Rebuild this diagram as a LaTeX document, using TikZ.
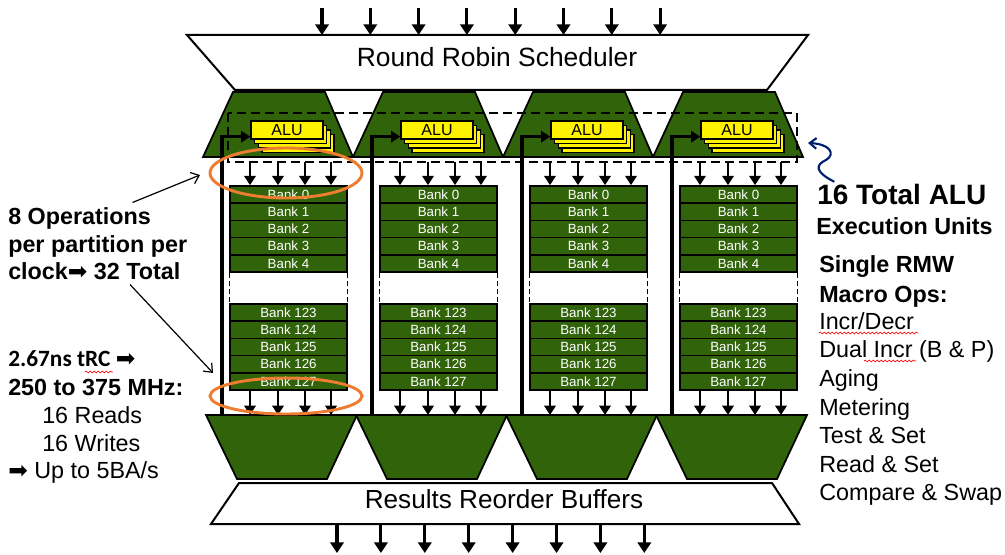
\documentclass[tikz,border=0pt]{standalone}
\usepackage{fontspec}
\setmainfont{Liberation Sans}
\newfontfamily\calfont{Carlito}
\newfontfamily\dingfont{DejaVu Sans}
\usetikzlibrary{calc,positioning,arrows.meta,decorations.pathmorphing}
\definecolor{bankgreen}{HTML}{31640A}
\definecolor{hiorange}{HTML}{ED7D31}
\definecolor{navyblue}{HTML}{001F6E}
\newcommand{\bfont}{\fontsize{17.5}{21}\selectfont\bfseries}
\newcommand{\rfont}{\fontsize{17.5}{21}\selectfont}
\newcommand{\arr}{{\dingfont\mdseries ➡}}
\tikzset{
  buf/.style={draw=black, line width=1.5pt, fill=white},
  trap/.style={draw=black, line width=1.3pt, fill=bankgreen},
  alubox/.style={draw=black, line width=1pt, fill=yellow, inner sep=0pt,
    font=\fontsize{12}{12}\selectfont},
  bank/.style={draw=black, line width=1.2pt, fill=bankgreen, text=white,
    minimum width=87.75pt, minimum height=12.9pt, inner sep=0pt,
    font=\fontsize{10}{10}\selectfont},
  gapside/.style={draw=black, line width=0.8pt, dash pattern=on 4pt off 2pt},
  bigarrow/.style={line width=2.3pt, -{Triangle[width=10pt,length=8pt]}},
  busarrow/.style={line width=2pt, -{Triangle[width=8.5pt,length=7pt]}},
  feedback/.style={line width=2.3pt, -{Triangle[width=8.5pt,length=7pt]}},
  dashframe/.style={draw=black, line width=1.3pt, dash pattern=on 6.5pt off 4pt},
  hilite/.style={draw=hiorange, line width=2.2pt},
  thinarrow/.style={line width=0.9pt, -{Straight Barb[length=5.5pt,width=9pt]}},
  squig/.style={draw=navyblue, line width=1.6pt, -{Straight Barb[length=5pt,width=8pt]}},
  spell/.style={draw=red, line width=0.5pt, decorate,
    decoration={snake, amplitude=0.7pt, segment length=3pt}},
  txt/.style={anchor=base west, inner sep=0pt},
}
\newcommand{\partition}[2]
	{
	\draw[trap] ({#2+3},92) -- ({#2+95},92) -- ({#2+123},157) -- ({#2-27},157) -- cycle;
	\draw[trap] ({#2-24},415) -- ({#2+127},415) -- ({#2+97},479) -- ({#2+7},479) -- cycle;
	\foreach \s in {3,2,1}
		\draw[alubox] ({#2+21+3.7*\s},{121+4.5*\s}) rectangle +(72,18);
	\node[alubox, minimum width=54pt, minimum height=13.5pt] (#1alu) at ({#2+57},130) {ALU};
	\foreach \n [count=\i from 0] in {0,...,4}
		\node[bank] (#1b\n) at ({#2+58.5},{194.6+17.2*\i}) {Bank \n};
	\foreach \n [count=\i from 0] in {123,...,127}
		\node[bank] (#1b\n) at ({#2+58.5},{312.6+17.2*\i}) {Bank \n};
	\draw[gapside] (#1b4.south west) -- (#1b123.north west);
	\draw[gapside] (#1b4.south east) -- (#1b123.north east);
	\foreach \x [count=\k] in {20,48,75,101}
		{
		\coordinate (#1i\k) at ({#2+\x},162);
		\coordinate (#1o\k) at ({#2+\x},415);
		\draw[busarrow] (#1i\k) -- (#1i\k |- #1b0.north);
		\draw[busarrow] (#1o\k |- #1b127.south) -- (#1o\k);
		}
	\coordinate (#1f) at ({#2-8},415);
	\draw[feedback] (#1f) |- ([yshift=-5pt]#1alu.west);
	}

\begin{document}
\begin{tikzpicture}[x=0.75pt, y=-0.75pt]
    \useasboundingbox (0,0) rectangle (1005,555);
    % scheduler and reorder buffers
    \draw[buf] (187,35) -- (808,35) -- (767,90) -- (235,90) -- cycle;
    \node[anchor=base, inner sep=0pt, font=\fontsize{19.8}{24}\selectfont] (RR) at (497,67) {Round Robin Scheduler};
    \draw[buf] (239,483) -- (772,483) -- (799,524) -- (211,524) -- cycle;
    \node[anchor=base, inner sep=0pt, font=\fontsize{19.6}{24}\selectfont] (RB) at (504,508) {Results Reorder Buffers};
    \foreach \k in {0,...,7}
        {
        \coordinate (top\k) at ({322+48.3*\k},8);
        \coordinate (sch\k) at ({322+48.3*\k},35);
        \draw[bigarrow] (top\k) -- (sch\k);
        \coordinate (rob\k) at ({337+43.9*\k},525);
        \coordinate (out\k) at ({337+43.9*\k},553);
        \draw[bigarrow] (rob\k) -- (out\k);
        }

    % partitions
    \partition{P1}{230}
    \partition{P2}{380}
    \partition{P3}{530}
    \partition{P4}{680}
    \draw[dashframe] (228,113) rectangle (797,162);
    \draw[hilite] (286,173) ellipse [x radius=76, y radius=25];
    \draw[hilite] (286,396) ellipse [x radius=76, y radius=18];

    % left notes
    \node[txt, font=\bfont] (L1) at (8,225) {8 Operations};
    \node[txt, font=\bfont] (L2) at (8,253) {per partition per};
    \node[txt, font=\bfont] (L3) at (8,280) {clock\arr{} 32 Total};
    \coordinate (E1) at (200,175);
    \coordinate (E2) at (213,373);
    \draw[thinarrow] ([xshift=-14pt,yshift=4pt]L1.north east) -- (E1);
    \draw[thinarrow] ([xshift=-38pt,yshift=-3pt]L3.south east) -- (E2);
    \node[txt, font=\fontsize{17.5}{21}\selectfont\calfont\bfseries] (L4) at (8,367) {2.67ns tRC \arr};
    \node[txt, font=\bfont] (L5) at (8,395) {250 to 375 MHz:};
    \node[txt, font=\rfont] (L6) at (42,423) {16 Reads};
    \node[txt, font=\rfont] (L7) at (42,451) {16 Writes};
    \node[txt, font=\rfont] (L8) at (8,478) {\arr{} Up to 5BA/s};
    \draw[spell] (85,372) -- (113,372);

    % right notes
    \node[txt, font=\fontsize{21}{25}\selectfont\bfseries] (R1) at (817,205) {16 Total ALU};
    \node[txt, font=\bfont] (R2) at (816,235) {Execution Units};
    \node[txt, font=\bfont] (R3) at (819,273) {Single RMW};
    \node[txt, font=\bfont] (R4) at (819,303) {Macro Ops:};
    \node[txt, font=\rfont] (R5) at (819,330) {Incr/Decr};
    \node[txt, font=\rfont] (R6) at (819,358) {Dual Incr (B \& P)};
    \node[txt, font=\rfont] (R7) at (819,387) {Aging};
    \node[txt, font=\rfont] (R8) at (819,415) {Metering};
    \node[txt, font=\rfont] (R9) at (819,443) {Test \& Set};
    \node[txt, font=\rfont] (R10) at (819,472) {Read \& Set};
    \node[txt, font=\rfont] (R11) at (819,500) {Compare \& Swap};
    \draw[spell] (819,333) -- (918,333);
    \draw[spell] (864,361) -- (916,361);
    \coordinate (E3) at (808,143);
    \draw[squig] ([xshift=13pt,yshift=2pt]R1.north west) .. controls (815,172) and (815,165) .. (826,160)
        .. controls (836,154) and (830,144) .. (E3);
\end{tikzpicture}
\end{document}
